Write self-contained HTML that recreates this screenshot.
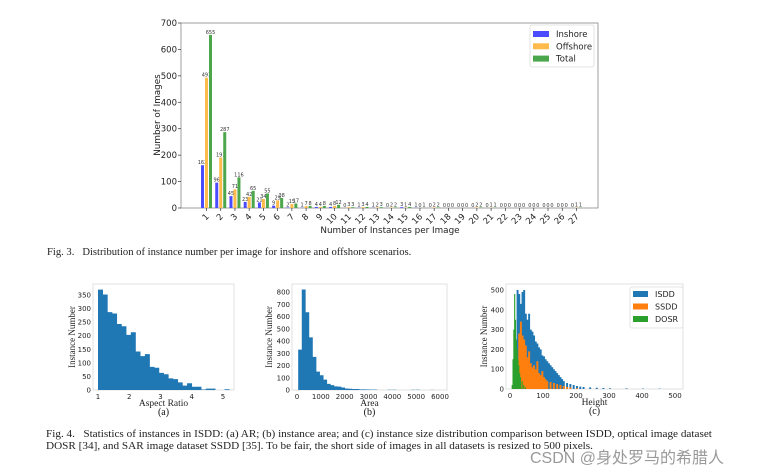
<!DOCTYPE html>
<html><head><meta charset="utf-8"><style>
body{margin:0;background:#fff;width:777px;height:475px;overflow:hidden;position:relative;font-family:"Liberation Serif",serif}
svg{position:absolute;left:0;top:0}
.cap{position:absolute;font-family:"Liberation Serif",serif;color:#222;white-space:nowrap;transform-origin:0 0}
</style></head><body>
<svg id="s" width="777" height="475"></svg>
<div class="cap" style="left:47px;top:247px;font-size:10.6px">Fig. 3.&nbsp;&nbsp;&nbsp;Distribution of instance number per image for inshore and offshore scenarios.</div>
<div class="cap" style="left:46px;top:429px;font-size:10px;line-height:12px;transform:scaleX(1.12)">Fig. 4.&nbsp;&nbsp;&nbsp;Statistics of instances in ISDD: (a) AR; (b) instance area; and (c) instance size distribution comparison between ISDD, optical image dataset<br>DOSR [34], and SAR image dataset SSDD [35]. To be fair, the short side of images in all datasets is resized to 500 pixels.</div>
<div class="cap" style="left:530px;top:444px;font-size:16px;color:#9a9a9a;font-family:'Liberation Sans','Noto Sans CJK SC',sans-serif">CSDN @身处罗马的希腊人</div>
<script>
const categories=[1,2,3,4,5,6,7,8,9,10,11,12,13,14,15,16,17,18,19,20,21,22,23,24,25,26,27];
const inshore=[162,96,45,23,21,9,2,1,4,4,0,1,1,0,3,1,0,0,0,0,0,0,0,0,0,0,0];
const offshore=[493,191,71,42,34,29,15,7,4,8,3,3,2,2,1,0,2,0,0,2,1,0,0,0,0,0,1];
const total=[655,287,116,65,55,38,17,8,8,12,3,4,3,2,4,1,2,0,0,2,1,0,0,0,0,0,1];
const yTicksTop=[0,100,200,300,400,500,600,700];
const arBins=[1,1.15,1.3,1.45,1.6,1.75,1.9,2.05,2.2,2.35,2.5,2.65,2.8,2.95,3.1,3.25,3.4,3.55,3.7,3.85,4.0,4.15,4.3,4.45,4.6,4.75,4.9,5.05];
const arCounts=[370,352,287,282,243,235,203,213,142,125,132,85,82,63,58,43,40,28,16,25,12,12,2,5,5,0,0,3];
const arTicks=[1,2,3,4,5];
const arYTicks=[0,50,100,150,200,250,300,350];
const areaBins=[50,200,350,500,650,800,950,1100,1250,1400,1550,1700,1850,2000,2150,2300,2450,2600,2750,2900,3050,3200,3800,4000,4800,5000,5600];
const areaCounts=[330,820,635,430,270,150,120,85,50,40,30,28,20,12,10,8,8,5,5,4,3,3,2,2,2,2,1];
const areaTicks=[0,1000,2000,3000,4000,5000,6000];
const areaYTicks=[0,100,200,300,400,500,600,700,800];
const isddBins=[10,15,20,25,30,35,40,45,50,55,60,65,70,75,80,85,90,95,100,105,110,115,120,125,130,135,140,145,150,155,160,170,180,190,200,210,220,240,260,280,300,350,400,450];
const isddCounts=[60,250,500,480,430,490,500,380,350,380,300,290,270,240,230,210,200,170,165,150,140,130,120,110,100,90,80,70,60,50,40,30,25,20,15,12,10,8,6,5,4,3,2,2];
const ssddBins=[20,25,30,35,40,45,50,55,60,65,70,75,80,85,90,95,100,105,110,120,130,140,150,160,170,180,200];
const ssddCounts=[150,280,340,270,250,220,160,190,130,110,120,100,140,80,70,90,60,50,40,35,30,25,20,15,10,8,4];
const dosrBins=[5,7.5,10,12.5,15,17.5,20,22.5,25,27.5,30,35,40,45];
const dosrCounts=[20,150,300,480,350,250,200,150,120,80,60,40,20,8];
const cTicks=[0,100,200,300,400,500];
const cYTicks=[0,100,200,300,400,500];

const S=document.getElementById('s');const NS='http://www.w3.org/2000/svg';
function mk(t,a,txt,name,par){const e=document.createElementNS(NS,t);for(const k in a)e.setAttribute(k,a[k]);if(txt!==undefined&&txt!==null)e.textContent=txt;


(par||S).appendChild(e);return e;}
const SANS='"DejaVu Sans","Liberation Sans",sans-serif';
// ---------- Top chart ----------
const T={l:181,r:598,t:23,b:208};
const ty=v=>T.b-v*(T.b-T.t)/700;
const tx=i=>206.5+i*14.23;
mk('rect',{x:T.l,y:T.t,width:T.r-T.l,height:T.b-T.t,fill:'none',stroke:'#888','stroke-width':0.8},null,'top-plot-frame');
yTicksTop.forEach(v=>{mk('line',{x1:T.l-3,x2:T.l,y1:ty(v),y2:ty(v),stroke:'#333','stroke-width':0.7},null,'y-tick');
mk('text',{x:T.l-4,y:ty(v)+3,'font-size':8.5,'text-anchor':'end','font-family':SANS,fill:'#222'},v,'y-tick-label');});
const cols=['#4c4cff','#ffba4c','#4ca64c'];const offs=[-4,0,4];
[inshore,offshore,total].forEach((ser,si)=>{ser.forEach((v,i)=>{const x=tx(i)+offs[si];
mk('rect',{x:x-1.5,y:ty(v),width:3,height:T.b-ty(v),fill:cols[si]},null,['bar-inshore','bar-offshore','bar-total'][si]);
mk('text',{x:x,y:ty(v)-1,'font-size':5,'text-anchor':'middle','font-family':SANS,fill:'#333'},v,'bar-value-label');});});
categories.forEach((c,i)=>{mk('line',{x1:tx(i),x2:tx(i),y1:T.b,y2:T.b+3,stroke:'#333','stroke-width':0.7},null,'x-tick');
mk('text',{x:tx(i)+3,y:T.b+9,'font-size':8.5,'text-anchor':'end','font-family':SANS,fill:'#222',transform:`rotate(-45 ${tx(i)+3} ${T.b+9})`},c,'x-tick-label');});
mk('text',{x:390,y:233,'font-size':8.8,'text-anchor':'middle','font-family':SANS,fill:'#222'},'Number of Instances per Image','x-axis-title');
mk('text',{x:160,y:115,'font-size':8.8,'text-anchor':'middle','font-family':SANS,fill:'#222',transform:'rotate(-90 160 115)'},'Number of Images','y-axis-title');
mk('rect',{x:530,y:25,width:64,height:42,fill:'#fff',stroke:'#ddd','stroke-width':0.8,rx:2},null,'legend-box');
['Inshore','Offshore','Total'].forEach((n,i)=>{const y=34+i*12.3;
mk('rect',{x:533,y:y-3,width:16,height:6,fill:cols[i]},null,'legend-swatch');
mk('text',{x:556,y:y+3,'font-size':8.5,'font-family':SANS,fill:'#222'},n,'legend-entry');});
// ---------- histogram helper (step polygons, no seams) ----------
function hist(cfg){
const {l,r,t,b,ymax,name}=cfg;
const Y=v=>b-v*(b-cfg.ytop)/ymax;
mk('rect',{x:l,y:t,width:r-l,height:b-t,fill:'none',stroke:'#ddd','stroke-width':0.9},null,name+'-frame');
cfg.series.forEach(sr=>{
  let d='';
  sr.bins.forEach((bv,i)=>{const w=i+1<sr.bins.length?sr.bins[i+1]-bv:sr.w;const ww=Math.min(w,sr.w);
    const x=cfg.px(bv),x2=cfg.px(bv+ww),y=Y(sr.counts[i]);
    d+=`M${x.toFixed(2)},${b}V${y.toFixed(2)}H${(x2+0.3).toFixed(2)}V${b}Z`;});
  mk('path',{d:d,fill:sr.c},null,name+'-'+sr.n+'-bars');
});
cfg.xt.forEach(v=>mk('text',{x:cfg.px(v),y:b+9,'font-size':7,'text-anchor':'middle','font-family':SANS,fill:'#222'},v,name+'-x-tick-label'));
cfg.yt.forEach(v=>mk('text',{x:l-2,y:Y(v)+2.5,'font-size':7,'text-anchor':'end','font-family':SANS,fill:'#222'},v,name+'-y-tick-label'));
mk('text',{x:(l+r)/2,y:b+16,'font-size':9.5,'text-anchor':'middle','font-family':'"Liberation Serif",serif',fill:'#222'},cfg.xl,name+'-x-axis-title');
mk('text',{x:cfg.ylx,y:(t+b)/2,'font-size':9,'text-anchor':'middle','font-family':'"Liberation Serif",serif',fill:'#222',transform:`rotate(-90 ${cfg.ylx} ${(t+b)/2})`},'Instance Number',name+'-y-axis-title');
mk('text',{x:(l+r)/2,y:b+25,'font-size':10,'text-anchor':'middle','font-family':'"Liberation Serif",serif',fill:'#111'},cfg.sub,name+'-subcaption');
}
hist({name:'ar',l:93,r:234,t:284,b:390,ytop:295,ymax:350,xl:'Aspect Ratio',sub:'(a)',ylx:75,xt:arTicks,yt:arYTicks,
px:v=>98+(v-1)*31.25,series:[{n:'ar',bins:arBins,counts:arCounts,c:'#1f77b4',w:0.15}]});
hist({name:'area',l:292,r:447,t:284,b:390,ytop:292,ymax:800,xl:'Area',sub:'(b)',ylx:272,xt:areaTicks,yt:areaYTicks,
px:v=>297+v*(143/6000),series:[{n:'area',bins:areaBins,counts:areaCounts,c:'#1f77b4',w:150}]});
hist({name:'height',l:506,r:683,t:284,b:389,ytop:290,ymax:500,xl:'Height',sub:'(c)',ylx:487,xt:cTicks,yt:cYTicks,
px:v=>510+v*(165/500),series:[{n:'isdd',bins:isddBins,counts:isddCounts,c:'#1f77b4',w:5},{n:'ssdd',bins:ssddBins,counts:ssddCounts,c:'#ff7f0e',w:5},{n:'dosr',bins:dosrBins,counts:dosrCounts,c:'#2ca02c',w:2.5}]});
mk('rect',{x:630,y:287,width:53,height:41,fill:'#fff',stroke:'#ddd','stroke-width':0.8,rx:2},null,'height-legend-box');
['ISDD','SSDD','DOSR'].forEach((n,i)=>{const y=294+i*12.5;
mk('rect',{x:633,y:y-3,width:15,height:6,fill:['#1f77b4','#ff7f0e','#2ca02c'][i]},null,'height-legend-swatch');
mk('text',{x:655,y:y+3,'font-size':8,'font-family':SANS,fill:'#222'},n,'height-legend-entry');});
</script>
</body></html>
